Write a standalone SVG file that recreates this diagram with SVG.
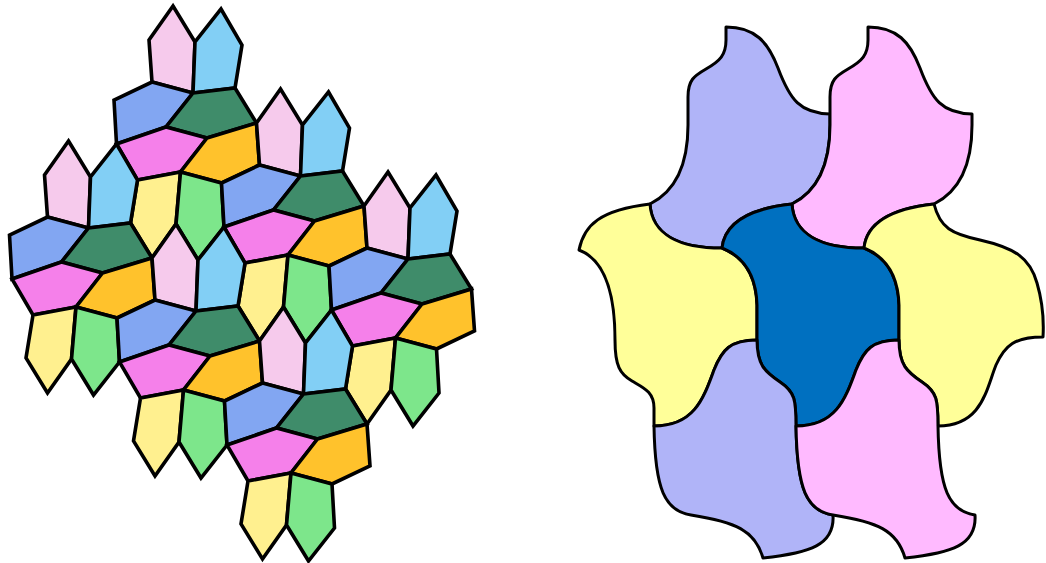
<svg xmlns="http://www.w3.org/2000/svg" xmlns:xlink="http://www.w3.org/1999/xlink" width="1046" height="563" viewBox="0 0 1046 563">
<style>
.t{stroke:#000;stroke-width:3;stroke-linejoin:round}
.p{stroke:#000;stroke-width:3.6;stroke-linejoin:miter;stroke-miterlimit:10}
.pk{fill:#F6CAEC}.lb{fill:#82CFF5}.bl{fill:#82A6F2}.dg{fill:#3F8C6A}
.mg{fill:#F580EA}.or{fill:#FFC22C}.ye{fill:#FFF08F}.gr{fill:#7DE68B}
.lav{fill:#B0B4F8}.pnk{fill:#FFBAFF}.yel{fill:#FFFF99}.dbl{fill:#0070C0}
</style>
<defs>
<g id="unit" class="p">
<polygon class="pk" points="173,6 195,42 193,93 152,82 149,40"/>
<polygon class="lb" points="221,9 242,45 235,88 193,93 195,42"/>
<polygon class="bl" points="152,82 193,93 166,127 116.5,144 114,100"/>
<polygon class="dg" points="193,93 235,88 256.5,123 207,138 166,127"/>
<polygon class="mg" points="116.5,144 166,127 207,138 180.5,172 137.5,180"/>
<polygon class="or" points="207,138 256.5,123 259.5,165 221.5,183 180.5,172"/>
<polygon class="ye" points="137.5,180 180.5,172 176,224 152,258 130.5,223"/>
<polygon class="gr" points="180.5,172 221.5,183 224,227 198,260 176,224"/>
</g>
<path id="lavTop" d="M650,204 C676,191 688,163 688,125 L688,114 L688,97 C688,80 694,76 706,69 C720,61 726,55 726,40 L726,27 C755,27 768,42 778,68 C790,100 800,113 830,114 L830,125 C830,163 818,191 792,204 C755,208 725,220 722,248 C680,248 652,235 650,204 Z"/>
<path id="lavBot" d="M654,426 C695,426 704,397 714,370 C722,350 730,340 757,340 C757,365 765,372 780,382 C795,392 796,400 796,426 C797,490 807,511 833,515 C835,545 810,553 763,558 C755,530 735,522 691,515 C665,511 655,490 654,426 Z"/>
</defs>
<g id="pentagon-tiling">
<use id="unit-0-0" xlink:href="#unit" href="#unit"/>
<use id="unit-1-0" xlink:href="#unit" href="#unit" transform="translate(107.5,83)"/>
<use id="unit-2-0" xlink:href="#unit" href="#unit" transform="translate(215,166)"/>
<use id="unit-0-1" xlink:href="#unit" href="#unit" transform="translate(-104.5,135)"/>
<use id="unit-1-1" xlink:href="#unit" href="#unit" transform="translate(3,218)"/>
<use id="unit-2-1" xlink:href="#unit" href="#unit" transform="translate(110.5,301)"/>
</g>
<g id="curved-tiling" class="t">
<g id="tile-lavender-top"><use xlink:href="#lavTop" href="#lavTop" class="lav"/></g>
<g id="tile-pink-top"><use xlink:href="#lavTop" href="#lavTop" class="pnk" transform="translate(142,0)"/></g>
<g id="tile-yellow-left"><path class="yel" d="M650,204 C652,235 680,248 722,248 C742,256 756,272 757,305 L757,340 C730,340 722,350 714,370 C704,397 695,426 654,426 L654,408 C654,392 644,388 632,381 C620,374 615,366 615,340 C615,295 605,260 579,250 C584,225 600,210 650,204 Z"/></g>
<g id="tile-blue-center"><path class="dbl" d="M722,248 C725,220 755,208 792,204 C794,235 822,248 864,248 C884,256 898,272 899,305 L899,340 C872,340 864,350 856,370 C846,397 837,426 796,426 C796,400 795,392 780,382 C765,372 757,365 757,340 L757,305 C756,272 742,256 722,248 Z"/></g>
<g id="tile-yellow-right"><path class="yel" d="M934,204 C897,208 867,220 864,248 C884,256 898,272 899,305 L899,340 C899,365 907,372 922,382 C937,392 938,400 938,426 C982,426 986,390 996,365 C1005,345 1015,337 1043,337 C1044,320 1042,300 1037,283 C1030,258 1015,248 980,240 C952,234 940,228 934,204 Z"/></g>
<g id="tile-lavender-bottom"><use xlink:href="#lavBot" href="#lavBot" class="lav"/></g>
<g id="tile-pink-bottom"><use xlink:href="#lavBot" href="#lavBot" class="pnk" transform="translate(142,0)"/></g>
</g>
</svg>
